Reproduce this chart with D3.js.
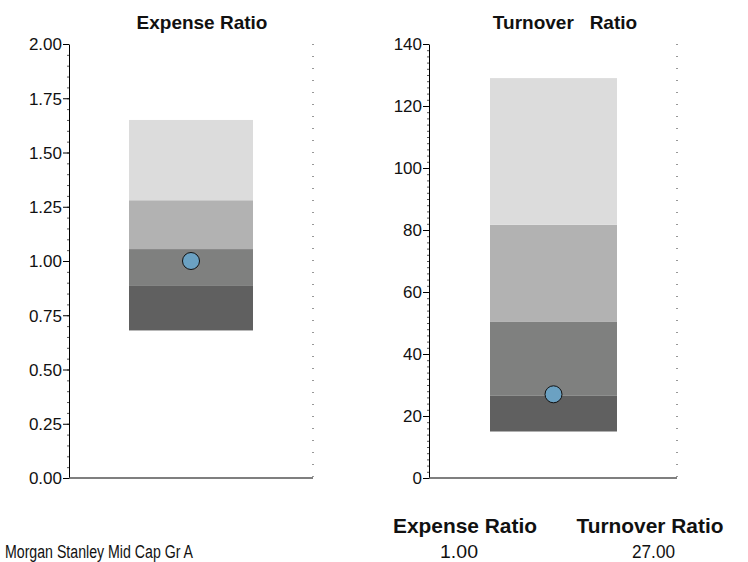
<html>
<head>
<script src="https://d3js.org/d3.v7.min.js"></script>
<style>
  body { margin: 0; background: #fff; }
  text { font-family: "Liberation Sans", Arial, sans-serif; fill: #111; }
  .title { font-weight: bold; font-size: 19px; white-space: pre; }
  .tick text { font-size: 17px; font-family: "Liberation Sans", Arial, sans-serif; }
  .hdr { font-weight: bold; font-size: 21px; }
  .val { font-size: 18px; }
</style>
</head>
<body>
<svg width="748" height="562" id="chart"></svg>
<script>
// band edges (bottom to top) and fund value for each metric
var expenseBands = [0.68, 0.885, 1.055, 1.28, 1.65];
var turnoverBands = [15, 26.5, 50.5, 81.7, 129];
var expenseValue = 1.00;
var turnoverValue = 27.00;
var expenseTicks = [0, 0.25, 0.5, 0.75, 1, 1.25, 1.5, 1.75, 2];
var turnoverTicks = [0, 20, 40, 60, 80, 100, 120, 140];
var fundName = "Morgan Stanley Mid Cap Gr A";
var bandColors = ["#606060", "#7f807f", "#b2b2b2", "#dcdcdc"];

var svg = d3.select("#chart");

function panel(opt) {
  var g = svg.append("g");
  var y = d3.scaleLinear().domain(opt.domain).range([478, 44]);

  // quartile bands
  for (let i = 0; i < opt.bands.length - 1; i++) {
    g.append("rect")
      .attr("x", opt.barX0)
      .attr("width", opt.barX1 - opt.barX0)
      .attr("y", y(opt.bands[i + 1]))
      .attr("height", y(opt.bands[i]) - y(opt.bands[i + 1]))
      .attr("fill", bandColors[i]);
  }

  // minor ticks
  g.append("g")
    .attr("transform", "translate(" + opt.axisX + ",0)")
    .call(d3.axisLeft(y).tickValues(d3.range(opt.domain[0], opt.domain[1] + 1e-9, opt.minor)).tickSize(2).tickFormat(""))
    .call(a => a.select(".domain").remove())
    .selectAll("line").attr("stroke", "#555");

  // major axis
  var ax = g.append("g")
    .attr("transform", "translate(" + opt.axisX + ",0)")
    .call(d3.axisLeft(y).tickValues(opt.ticks).tickSize(6).tickSizeOuter(0).tickFormat(opt.fmt));
  ax.select(".domain").attr("stroke", "#000");
  ax.selectAll(".tick text").attr("x", -7).attr("dy", "0.35em").attr("fill", "#111");

  // baseline
  g.append("line")
    .attr("x1", opt.axisX).attr("x2", opt.rightX)
    .attr("y1", y(0)).attr("y2", y(0))
    .attr("stroke", "#555").attr("stroke-width", 1.5);

  // dotted right border
  g.append("line")
    .attr("x1", opt.rightX).attr("x2", opt.rightX)
    .attr("y1", y(opt.domain[1])).attr("y2", y(0))
    .attr("stroke", "#333").attr("stroke-width", 1)
    .attr("stroke-dasharray", "1,11");

  // fund value
  g.append("circle")
    .attr("cx", (opt.barX0 + opt.barX1) / 2)
    .attr("cy", y(opt.value))
    .attr("r", 8.5)
    .attr("fill", "#6ba1c2")
    .attr("stroke", "#111")
    .attr("stroke-width", 1);

  g.append("text")
    .attr("class", "title")
    .attr("x", opt.titleX).attr("y", 29)
    .attr("text-anchor", "middle")
    .text(opt.title);
}

panel({ domain: [0, 2], bands: expenseBands, value: expenseValue, ticks: expenseTicks, minor: 0.05,
  fmt: d3.format(".2f"), axisX: 69, rightX: 313, barX0: 129, barX1: 253, title: "Expense Ratio", titleX: 202 });
panel({ domain: [0, 140], bands: turnoverBands, value: turnoverValue, ticks: turnoverTicks, minor: 2,
  fmt: d3.format("d"), axisX: 429, rightX: 677, barX0: 490, barX1: 617, title: "Turnover   Ratio", titleX: 565 });

// summary table (narrow face: squeeze to measured widths)
function narrow(sel, w) {
  return sel.attr("textLength", w).attr("lengthAdjust", "spacingAndGlyphs");
}
narrow(svg.append("text").attr("class", "hdr").attr("x", 465).attr("y", 533).attr("text-anchor", "middle").text("Expense Ratio"), 144);
narrow(svg.append("text").attr("class", "hdr").attr("x", 650).attr("y", 533).attr("text-anchor", "middle").text("Turnover Ratio"), 147);
narrow(svg.append("text").attr("class", "val").attr("x", 5).attr("y", 558).text(fundName), 188);
narrow(svg.append("text").attr("class", "val").attr("x", 459).attr("y", 558).attr("text-anchor", "middle").text(d3.format(".2f")(expenseValue)), 38);
narrow(svg.append("text").attr("class", "val").attr("x", 653.5).attr("y", 558).attr("text-anchor", "middle").text(d3.format(".2f")(turnoverValue)), 43);
</script>
</body>
</html>
